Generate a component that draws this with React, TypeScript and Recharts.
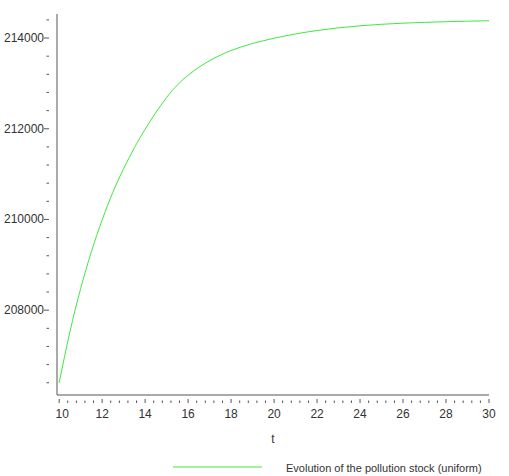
import React from "react";
import { LineChart, Line, XAxis, YAxis, Legend } from "recharts";

const tValues = [10, 10.5, 11, 11.5, 12, 12.5, 13, 13.5, 14, 15, 16, 17, 18, 19, 20, 21, 22, 23, 24, 25, 26, 27, 28, 29, 30];
const stockValues = [206400, 207520, 208475, 209290, 209990, 210600, 211120, 211580, 211990, 212690, 213180, 213500, 213725, 213880, 213995, 214090, 214165, 214225, 214270, 214303, 214328, 214346, 214360, 214372, 214381];
const xMajorTicks = [10, 12, 14, 16, 18, 20, 22, 24, 26, 28, 30];
const yMajorTicks = [208000, 210000, 212000, 214000];
const seriesName = "Evolution of the pollution stock (uniform)";

const data = tValues.map((t, i) => ({ t, stock: stockValues[i] }));

const xAllTicks: number[] = [];
for (let i = 0; i < xMajorTicks.length - 1; i++) {
  const a = xMajorTicks[i];
  const b = xMajorTicks[i + 1];
  for (let k = 0; k < 5; k++) xAllTicks.push(+(a + ((b - a) * k) / 5).toFixed(3));
}
xAllTicks.push(xMajorTicks[xMajorTicks.length - 1]);

const yAllTicks: number[] = [];
const yStep = (yMajorTicks[1] - yMajorTicks[0]) / 5;
for (let v = yMajorTicks[0] - 4 * yStep; v <= yMajorTicks[yMajorTicks.length - 1] + yStep; v += yStep) yAllTicks.push(v);

const AXIS = "#555";
const TEXT = "#333";
const FONT = "'Liberation Sans', Arial, sans-serif";

const XTick = (props: any) => {
  const { x, y, payload } = props;
  const major = xMajorTicks.includes(payload.value);
  return (
    <g>
      <line x1={x} x2={x} y1={y} y2={y - (major ? 4 : 2.5)} stroke={AXIS} strokeWidth={1} />
      {major && (
        <text x={x + (payload.value === 10 ? 3 : 0)} y={y + 15} textAnchor="middle" fill={TEXT} fontSize={12} fontFamily={FONT}>
          {payload.value}
        </text>
      )}
    </g>
  );
};

const YTick = (props: any) => {
  const { x, y, payload } = props;
  const major = yMajorTicks.includes(payload.value);
  return (
    <g>
      <line x1={x} x2={x - (major ? 5 : 2.5)} y1={y} y2={y} stroke={AXIS} strokeWidth={1} />
      {major && (
        <text x={x - 5} y={y + 4} textAnchor="end" fill={TEXT} fontSize={12} fontFamily={FONT}>
          {payload.value}
        </text>
      )}
    </g>
  );
};

const LegendContent = () => (
  <div style={{ position: "relative", height: 22, width: 509, fontFamily: FONT, fontSize: 11, color: TEXT }}>
    <svg width={509} height={22} style={{ position: "absolute", left: 0, top: 0, overflow: "visible" }}>
      <line x1={173} x2={262} y1={13} y2={13} stroke="#3ee83e" strokeWidth={1} />
      <text x={286} y={18} fill={TEXT} fontSize={11} fontFamily={FONT}>{seriesName}</text>
    </svg>
  </div>
);

export default function App() {
  return (
    <div style={{ position: "absolute", left: 0, top: 0, background: "#fff" }}>
      <LineChart width={509} height={476} data={data} margin={{ top: 14, right: 20, bottom: 0, left: 0 }}>
        <XAxis
          dataKey="t"
          type="number"
          domain={[9.9, 30]}
          allowDataOverflow
          ticks={xAllTicks}
          interval={0}
          tick={<XTick />}
          tickLine={false}
          axisLine={{ stroke: AXIS }}
          height={59}
          label={{ value: "t", position: "insideBottom", offset: 11, fill: TEXT, fontSize: 12, fontFamily: FONT }}
        />
        <YAxis
          type="number"
          domain={[206130, 214530]}
          allowDataOverflow
          ticks={yAllTicks}
          interval={0}
          tick={<YTick />}
          tickLine={false}
          axisLine={{ stroke: AXIS }}
          width={57}
        />
        <Legend verticalAlign="bottom" height={22} content={<LegendContent />} />
        <Line
          type="natural"
          dataKey="stock"
          name={seriesName}
          stroke="#3ee83e"
          strokeWidth={1}
          dot={false}
          isAnimationActive={false}
        />
      </LineChart>
    </div>
  );
}
